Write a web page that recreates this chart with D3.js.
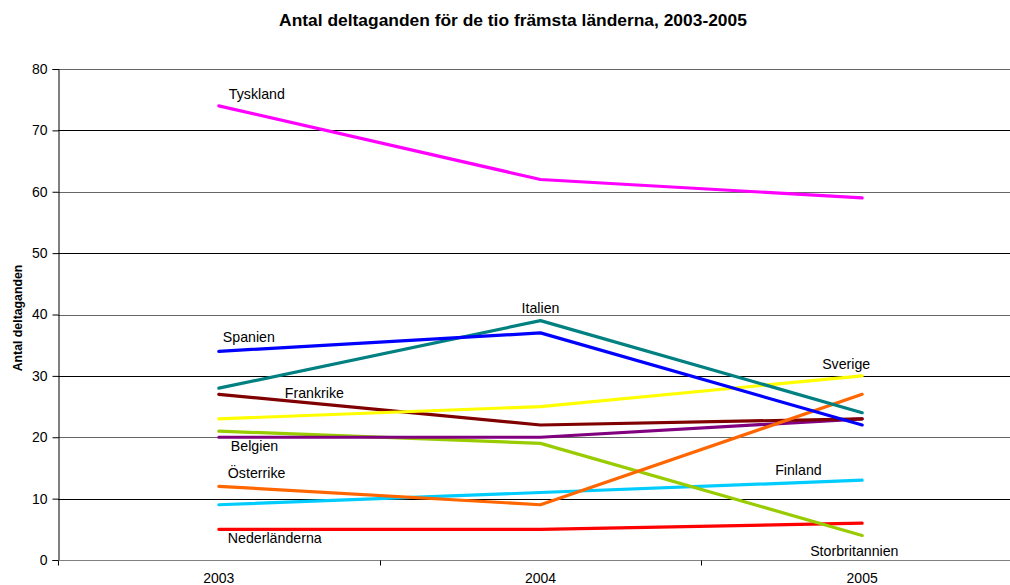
<!DOCTYPE html>
<html><head><meta charset="utf-8">
<script src="https://cdn.jsdelivr.net/npm/d3@7"></script>
<style>body{margin:0;background:#fff}svg{display:block}text{font-family:"Liberation Sans",Arial,sans-serif}</style>
</head><body><svg id="c" width="1010" height="585"></svg>
<script>
const years = ["2003","2004","2005"];
const countries = ["Tyskland","Spanien","Italien","Frankrike","Sverige","Storbritannien","Belgien","Österrike","Finland","Nederländerna"];
const tyskland = [74,62,59];
const spanien = [34,37,22];
const italien = [28,39,24];
const frankrike = [27,22,23];
const sverige = [23,25,30];
const storbritannien = [21,19,4];
const belgien = [20,20,23];
const osterrike = [12,9,27];
const finland = [9,11,13];
const nederlanderna = [5,5,6];
const yTicks = [0,10,20,30,40,50,60,70,80];
const colors = ["#FF00FF","#0000FF","#008080","#800000","#FFFF00","#99CC00","#800080","#FF6600","#00CCFF","#FF0000"];
const values = [tyskland,spanien,italien,frankrike,sverige,storbritannien,belgien,osterrike,finland,nederlanderna];

// label anchor: which year index, dx, dy, anchor
const labelPos = {
  "Tyskland":[0,10,-7,"start"],
  "Spanien":[0,4,-9,"start"],
  "Italien":[1,0,-8,"middle"],
  "Frankrike":[0,66,4,"start"],
  "Sverige":[2,-40,-7,"start"],
  "Storbritannien":[2,-52,21,"start"],
  "Belgien":[0,12,14,"start"],
  "Österrike":[0,9,-8,"start"],
  "Finland":[2,-87,-5,"start"],
  "Nederländerna":[0,9,14,"start"]
};

const svg = d3.select("#c");
const mLeft = 58, mRight = 1023, mTop = 69, mBottom = 560;
const x = d3.scaleBand().domain(years).range([mLeft,mRight]);
const y = d3.scaleLinear().domain([0,80]).range([mBottom,mTop]);

svg.append("text").attr("x",513).attr("y",26).attr("text-anchor","middle")
  .attr("font-weight","bold").attr("font-size",17.4).text("Antal deltaganden för de tio främsta länderna, 2003-2005");

// gridlines
svg.append("g").selectAll("line").data(yTicks).join("line")
  .attr("x1",mLeft).attr("x2",1010).attr("y1",d=>Math.round(y(d))+0.5).attr("y2",d=>Math.round(y(d))+0.5)
  .attr("stroke",d=>d===0?"#808080":"#000").attr("stroke-width",1).attr("stroke-opacity",d=>d%20===0?0.6:1);

// y axis
const ya = svg.append("g").attr("transform",`translate(${mLeft+0.5},0)`)
  .call(d3.axisLeft(y).tickValues(yTicks).tickSize(6).tickPadding(5));
ya.select(".domain").attr("stroke","#000");
ya.selectAll("text").attr("font-size",14).attr("fill","#000").attr("font-family","Liberation Sans, Arial, sans-serif");

// x axis
const xa = svg.append("g").attr("transform",`translate(0,${mBottom+0.5})`);
xa.append("line").attr("x1",mLeft).attr("x2",1010).attr("stroke","#808080");
const bounds = years.map(d=>x(d)).concat([mRight]);
xa.selectAll("line.t").data(bounds).join("line").attr("class","t")
  .attr("x1",d=>Math.round(d)+0.5).attr("x2",d=>Math.round(d)+0.5).attr("y1",0).attr("y2",5).attr("stroke","#000");
xa.selectAll("text").data(years).join("text")
  .attr("x",d=>x(d)+x.bandwidth()/2).attr("y",22).attr("text-anchor","middle").attr("font-size",14).text(d=>d);

svg.append("text").attr("transform","translate(22,318) rotate(-90)").attr("text-anchor","middle")
  .attr("font-weight","bold").attr("font-size",12.3).text("Antal deltaganden");

const line = d3.line().x((d,i)=>x(years[i])+x.bandwidth()/2).y(d=>y(d));
const order = [9,8,5,6,3,4,7,2,1,0];
svg.append("g").selectAll("path").data(order).join("path")
  .attr("d",i=>line(values[i])).attr("fill","none").attr("stroke",i=>colors[i])
  .attr("stroke-width",3.2).attr("stroke-linejoin","round").attr("stroke-linecap","round");

svg.append("g").selectAll("text").data(countries).join("text")
  .attr("x",(c,i)=>{const p=labelPos[c];return x(years[p[0]])+x.bandwidth()/2+p[1];})
  .attr("y",(c,i)=>{const p=labelPos[c];return y(values[i][p[0]])+p[2];})
  .attr("text-anchor",c=>labelPos[c][3]).attr("font-size",14.2).text(c=>c);
</script></body></html>
